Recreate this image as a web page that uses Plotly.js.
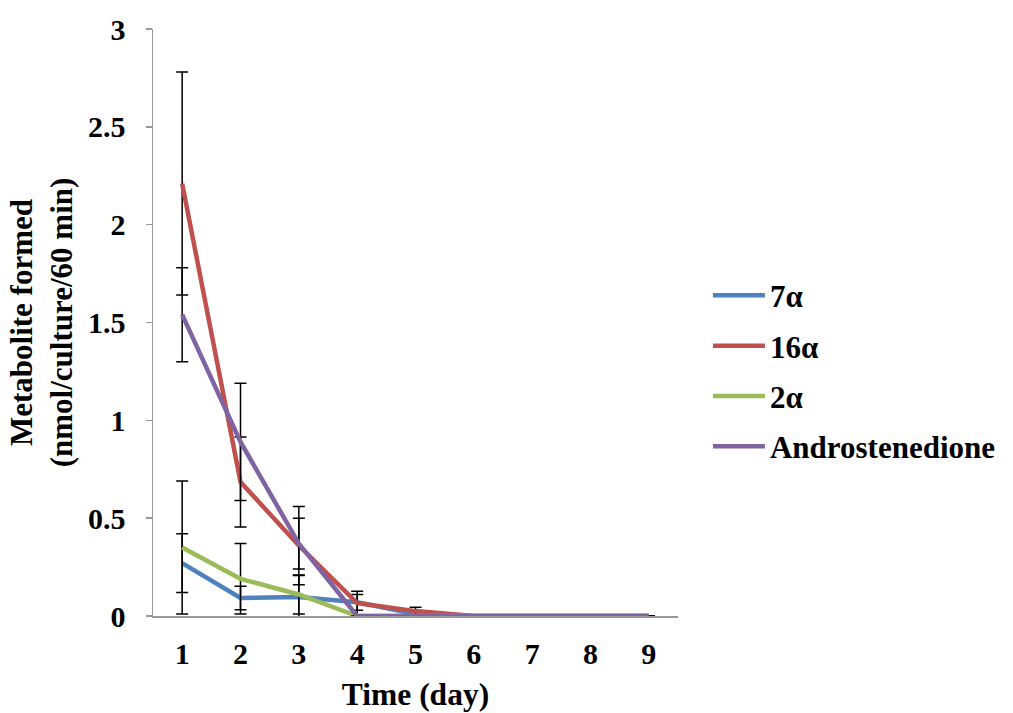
<!DOCTYPE html>
<html>
<head>
<meta charset="utf-8">
<script src="https://cdn.plot.ly/plotly-3.0.1.min.js"></script>
<style>html,body{margin:0;padding:0;background:#fff;}#chart{width:1013px;height:713px;}</style>
</head>
<body>
<div id="chart"></div>
<script>
const days = [1, 2, 3, 4, 5, 6, 7, 8, 9];
const seriesNames = ["7α", "16α", "2α", "Androstenedione"];
const v7a   = [0.27, 0.092, 0.097, 0.07, 0.01, 0, 0, 0, 0];
const e7a   = [0.15, 0.06, 0.11, 0.04, 0, 0, 0, 0, 0];
const v16a  = [2.21, 0.685, 0.36, 0.066, 0.025, 0, 0, 0, 0];
const e16a  = [0.57, 0.23, 0.2, 0.06, 0.02, 0, 0, 0, 0];
const v2a   = [0.35, 0.19, 0.11, 0, 0, 0, 0, 0, 0];
const e2a   = [0.34, 0.18, 0.1, 0, 0, 0, 0, 0, 0];
const vAnd  = [1.54, 0.89, 0.37, 0, 0, 0, 0, 0, 0];
const eAnd  = [0.24, 0.30, 0.13, 0, 0, 0, 0, 0, 0];
const colors = ["#4F81BD", "#C0504D", "#9BBB59", "#8064A2"];

const vals = [v7a, v16a, v2a, vAnd];
const errs = [e7a, e16a, e2a, eAnd];
const traces = vals.map((v, i) => ({
  x: days, y: v, name: seriesNames[i], type: "scatter", mode: "lines",
  legendgroup: "g" + i,
  line: {color: colors[i], width: 4.5},
  error_y: {type: "data", array: errs[i], visible: true, color: "#000", thickness: 1.5, width: 6}
}));

const fam = "Liberation Serif, Times New Roman, serif";
const layout = {
  width: 1013, height: 713,
  margin: {l: 153, r: 331, t: 29, b: 97},
  paper_bgcolor: "#fff", plot_bgcolor: "#fff",
  showlegend: true,
  font: {family: fam, color: "#000"},
  legend: {x: 1.057, y: 0.417, xanchor: "left", yanchor: "middle",
    font: {family: fam, size: 31, color: "#000", weight: "bold"},
    traceorder: "grouped", tracegroupgap: 7, itemwidth: 52},
  xaxis: {
    range: [0.5, 9.5], tickmode: "array", tickvals: days, ticktext: days.map(d => "<b>" + d + "</b>"),
    showline: true, linecolor: "#999", linewidth: 1.5, showgrid: false, zeroline: false,
    ticks: "", ticklabelstandoff: 10,
    tickfont: {family: fam, size: 30, color: "#000"},
    title: {text: "<b>Time (day)</b>", font: {family: fam, size: 31.5, color: "#000"}, standoff: 14}
  },
  yaxis: {
    range: [0, 3], dtick: 0.5, tickmode: "linear", tick0: 0,
    showline: true, linecolor: "#999", linewidth: 1.5, showgrid: false, zeroline: false,
    ticks: "outside", ticklen: 6, tickcolor: "#999", tickwidth: 1.5, ticklabelstandoff: 14,
    tickfont: {family: fam, size: 30, color: "#000", weight: "bold"},
    title: {text: "<b>Metabolite formed<br>(nmol/culture/60 min)</b>", font: {family: fam, size: 31, color: "#000"}, standoff: 6}
  }
};
Plotly.newPlot("chart", traces, layout, {displayModeBar: false, staticPlot: true});
</script>
</body>
</html>
